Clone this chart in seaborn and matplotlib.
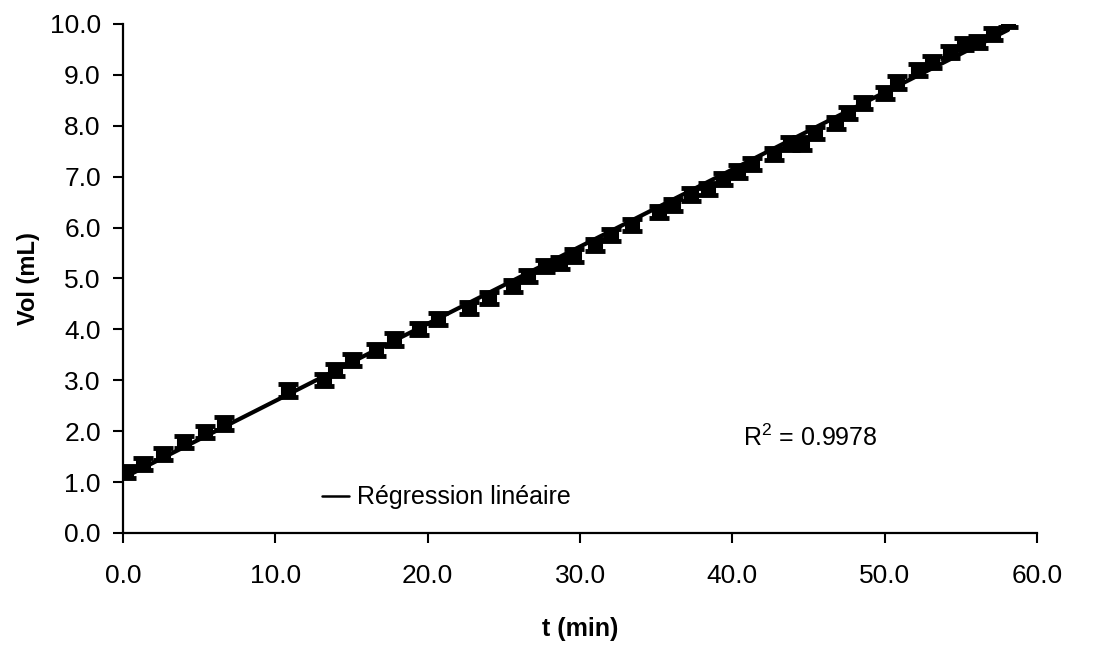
import matplotlib
matplotlib.use("Agg")
import matplotlib.pyplot as plt
import seaborn as sns
import numpy as np
import pandas as pd

# --- data ---
t_min = [0.2, 1.3, 2.6, 4.0, 5.4, 6.6, 10.8, 13.2, 13.9, 15.0, 16.6, 17.8, 19.4, 20.7,
         22.7, 24.0, 25.6, 26.6, 27.7, 28.7, 29.6, 31.0, 32.0, 33.4, 35.2, 36.1, 37.3,
         38.4, 39.4, 40.4, 41.3, 42.7, 43.8, 44.6, 45.4, 46.8, 47.6, 48.6, 50.0, 50.8,
         52.2, 53.1, 54.3, 55.2, 56.1, 57.1, 58.1]
vol_ml = [1.2, 1.35, 1.55, 1.78, 1.98, 2.15, 2.8, 3.0, 3.2, 3.4, 3.6, 3.8, 4.0, 4.2,
          4.42, 4.62, 4.85, 5.05, 5.25, 5.3, 5.45, 5.65, 5.85, 6.05, 6.3, 6.45, 6.65,
          6.75, 6.95, 7.1, 7.25, 7.45, 7.65, 7.65, 7.85, 8.05, 8.25, 8.45, 8.65, 8.85,
          9.1, 9.25, 9.45, 9.6, 9.65, 9.8, 10.05]
vol_err = [0.12] * len(t_min)
reg_slope = 0.1515
reg_intercept = 1.08
r2_text = "R$^2$ = 0.9978"
x_ticks = [0, 10, 20, 30, 40, 50, 60]
y_ticks = [0, 1, 2, 3, 4, 5, 6, 7, 8, 9, 10]

df = pd.DataFrame({"t": t_min, "vol": vol_ml, "err": vol_err})
t_line = np.array([0.0, max(t_min)])
line_df = pd.DataFrame({"t": t_line, "vol": reg_intercept + reg_slope * t_line})

sns.set_style("white")
plt.rcParams["font.family"] = ["Liberation Sans", "DejaVu Sans"]
plt.rcParams["mathtext.fontset"] = "custom"
plt.rcParams["mathtext.rm"] = "Liberation Sans"
plt.rcParams["text.color"] = "black"
plt.rcParams["axes.labelcolor"] = "black"

fig = plt.figure(figsize=(10.99, 6.46), dpi=100)
ax = fig.add_axes([0.112, 0.175, 0.8316, 0.788])

ax.errorbar(df["t"], df["vol"], yerr=df["err"], fmt="none", ecolor="black",
            elinewidth=2.5, capsize=7, capthick=3.5, zorder=3)
sns.scatterplot(data=df, x="t", y="vol", marker="s", s=90, color="black",
                edgecolor="black", ax=ax, zorder=4, legend=False)
sns.lineplot(data=line_df, x="t", y="vol", color="black", linewidth=3, ax=ax,
             label="Régression linéaire", zorder=5)

ax.set_xlim(0, 60)
ax.set_ylim(0, 10)
ax.set_xticks(x_ticks)
ax.set_yticks(y_ticks)
ax.set_xticklabels([f"{v:.1f}" for v in x_ticks])
ax.set_yticklabels([f"{v:.1f}" for v in y_ticks])

for s in ["top", "right"]:
    ax.spines[s].set_visible(False)
for s in ["left", "bottom"]:
    ax.spines[s].set_linewidth(1.6)
    ax.spines[s].set_color("black")

ax.tick_params(axis="x", direction="out", length=7, width=1.5, pad=15,
               labelsize=19, bottom=True, colors="black")
ax.tick_params(axis="y", direction="out", length=7, width=1.5, pad=9,
               labelsize=19, left=True, colors="black")

ax.set_xlabel("t (min)", fontsize=18, fontweight="bold", labelpad=21, color="black")
ax.set_ylabel("Vol (mL)", fontsize=17, fontweight="bold", labelpad=7, color="black")

ax.text(40.7, 1.87, r2_text, fontsize=18, va="center", ha="left", color="black")

leg = ax.legend(loc="center left", bbox_to_anchor=(0.193, 0.07), frameon=False,
                fontsize=18, handlelength=1.1, handletextpad=0.3)
for h in leg.get_lines():
    h.set_linewidth(1.8)
for txt in leg.get_texts():
    txt.set_color("black")

fig.savefig("out.png", dpi=100)
